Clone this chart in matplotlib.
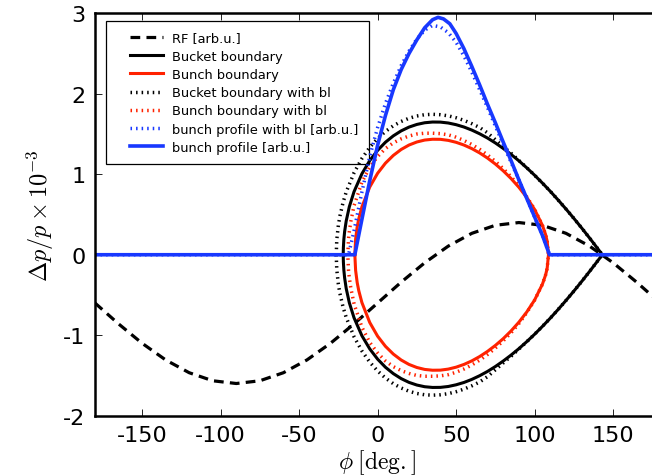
import numpy as np
import matplotlib
matplotlib.use("Agg")
import matplotlib.pyplot as plt
from matplotlib.legend_handler import HandlerLine2D

# ---------------- data ----------------
# RF voltage [arb.u.]
rf_phi = [-180, -165, -150, -135, -120, -105, -90, -75, -60, -45, -30, -15, 0,
          15, 30, 45, 60, 75, 90, 105, 120, 135, 150, 165, 180]
rf_val = [-0.600, -0.859, -1.100, -1.307, -1.466, -1.566, -1.600, -1.566, -1.466,
          -1.307, -1.100, -0.859, -0.600, -0.341, -0.100, 0.107, 0.266, 0.366,
          0.400, 0.366, 0.266, 0.107, -0.100, -0.341, -0.600]

# Bucket boundary (upper half, lower half is mirrored)
bucket_phi = [-21.9, -21.8, -21.5, -21, -20, -18, -15, -10, -5, 0, 5, 10, 15, 20, 25,
              30, 35, 40, 45, 50, 55, 60, 65, 70, 75, 80, 85, 90, 95, 100, 105,
              110, 115, 120, 125, 130, 135, 140, 143.13]
bucket_dp = [0.0, 0.087, 0.190, 0.288, 0.419, 0.597, 0.784, 1.006, 1.170, 1.297,
             1.398, 1.477, 1.539, 1.586, 1.619, 1.640, 1.649, 1.648, 1.637, 1.616,
             1.587, 1.549, 1.503, 1.450, 1.389, 1.321, 1.247, 1.167, 1.080, 0.988,
             0.890, 0.788, 0.680, 0.568, 0.452, 0.332, 0.208, 0.081, 0.0]

# Bunch boundary
bunch_phi = [-14.5, -14, -13, -12, -10, -5, 0, 5, 10, 15, 20, 25, 30, 35, 40, 45,
             50, 55, 60, 65, 70, 75, 80, 85, 90, 95, 100, 105, 107, 108, 108.84]
bunch_dp = [0.0, 0.195, 0.346, 0.446, 0.594, 0.842, 1.012, 1.138, 1.234, 1.308,
            1.363, 1.401, 1.425, 1.435, 1.434, 1.421, 1.397, 1.363, 1.319, 1.265,
            1.201, 1.127, 1.043, 0.947, 0.838, 0.712, 0.563, 0.365, 0.251, 0.169, 0.0]

# Bucket boundary with bl
bucket_bl_phi = [-26.34, -26, -25, -24, -22, -20, -15, -10, -5, 0, 5, 10, 15, 20,
                 25, 30, 35, 40, 45, 50, 55, 60, 65, 70, 75, 80, 85, 90, 95, 100,
                 105, 110, 115, 120, 125, 130, 135, 140, 143.13]
bucket_bl_dp = [0.0, 0.186, 0.366, 0.481, 0.650, 0.779, 1.019, 1.196, 1.334, 1.444,
                1.532, 1.602, 1.656, 1.696, 1.724, 1.740, 1.745, 1.740, 1.726, 1.702,
                1.670, 1.629, 1.581, 1.515, 1.430, 1.345, 1.262, 1.172, 1.082, 0.988,
                0.890, 0.788, 0.680, 0.568, 0.452, 0.332, 0.208, 0.081, 0.0]

# Bunch boundary with bl
bunch_bl_phi = [-19, -18.5, -18, -17, -15, -10, -5, 0, 5, 10, 15, 20, 25, 30, 35,
                40, 45, 50, 55, 60, 65, 70, 75, 80, 85, 90, 95, 100, 105, 107, 108,
                108.84]
bunch_bl_dp = [0.0, 0.20, 0.29, 0.42, 0.61, 0.90, 1.09, 1.22, 1.32, 1.39, 1.44,
               1.475, 1.50, 1.51, 1.51, 1.505, 1.49, 1.46, 1.42, 1.37, 1.31, 1.24,
               1.16, 1.07, 0.97, 0.855, 0.72, 0.565, 0.365, 0.251, 0.169, 0.0]

# Bunch profile with bl [arb.u.]
prof_bl_phi = [-180, -18.5, -15, -10, -5, 0, 5, 10, 15, 20, 25, 30, 35, 40, 45, 50,
               55, 60, 65, 70, 75, 80, 85, 90, 95, 100, 105, 109.5, 180]
prof_bl_val = [0.0, 0.0, 0.30, 0.78, 1.22, 1.58, 1.88, 2.13, 2.35, 2.53, 2.68, 2.79,
               2.85, 2.83, 2.76, 2.64, 2.47, 2.27, 2.05, 1.83, 1.60, 1.37, 1.15,
               0.93, 0.70, 0.47, 0.24, 0.0, 0.0]

# Bunch profile [arb.u.]
prof_phi = [-180, -14.5, -10, -5, 0, 5, 10, 15, 20, 25, 30, 35, 38.5, 42, 46, 50,
            55, 60, 65, 70, 75, 80, 85, 90, 95, 100, 105, 109.5, 180]
prof_val = [0.0, 0.0, 0.44, 0.92, 1.36, 1.73, 2.05, 2.30, 2.50, 2.67, 2.82, 2.92,
            2.95, 2.93, 2.87, 2.75, 2.56, 2.34, 2.11, 1.87, 1.64, 1.40, 1.17, 0.93,
            0.70, 0.47, 0.24, 0.0, 0.0]

x_ticks = [-150, -100, -50, 0, 50, 100, 150]
y_ticks = [-2, -1, 0, 1, 2, 3]

labels = ["RF [arb.u.]", "Bucket boundary", "Bunch boundary",
          "Bucket boundary with bl", "Bunch boundary with bl",
          "bunch profile with bl [arb.u.]", "bunch profile [arb.u.]"]

# ---------------- style ----------------
plt.rcParams['axes.unicode_minus'] = False
plt.rcParams['mathtext.fontset'] = 'cm'
plt.rcParams['lines.scale_dashes'] = False
plt.rcParams['font.family'] = ['DejaVu Sans']

RED = '#ff2200'
BLUE = '#1838ff'


def closed(phi, dp):
    p = np.asarray(phi, float)
    d = np.asarray(dp, float)
    return np.concatenate([p, p[::-1]]), np.concatenate([d, -d[::-1]])


fig = plt.figure(figsize=(6.52, 4.77), dpi=100)
ax = fig.add_axes([95 / 652, (477 - 416.7) / 477, 565.2 / 652, (416.7 - 14.3) / 477])

DOT = dict(dashes=(1.1, 2.9), dash_capstyle='butt')

h = []
l, = ax.plot(rf_phi, rf_val, color='black', lw=2.3, dashes=(7, 4.5))
h.append(l)
x, y = closed(bucket_phi, bucket_dp)
l, = ax.plot(x, y, color='black', lw=2.2)
h.append(l)
x, y = closed(bunch_phi, bunch_dp)
l, = ax.plot(x, y, color=RED, lw=2.2)
h.append(l)
x, y = closed(bucket_bl_phi, bucket_bl_dp)
l, = ax.plot(x, y, color='black', lw=2.5, **DOT)
h.append(l)
x, y = closed(bunch_bl_phi, bunch_bl_dp)
l, = ax.plot(x, y, color=RED, lw=2.5, **DOT)
h.append(l)
l, = ax.plot(prof_bl_phi, prof_bl_val, color=BLUE, lw=2.5, **DOT)
h.append(l)
l, = ax.plot(prof_phi, prof_val, color=BLUE, lw=2.6)
h.append(l)

ax.set_xlim(-180, 180)
ax.set_ylim(-2, 3)
ax.set_xticks(x_ticks)
ax.set_yticks(y_ticks)
ax.tick_params(direction='in', top=True, right=True, length=5, width=0.6,
               labelsize=16, pad=7)
for s in ax.spines.values():
    s.set_linewidth(1.8)


class ShortLine(HandlerLine2D):
    def __init__(self, frac=0.7, **kw):
        super().__init__(**kw)
        self.frac = frac

    def get_xdata(self, legend, xdescent, ydescent, width, height, fontsize):
        x0 = -xdescent + (1 - self.frac) * width
        x1 = -xdescent + width
        return np.array([x0, x1]), np.array([(x0 + x1) / 2])


leg = ax.legend(h, labels, loc='upper left',
                bbox_to_anchor=(106 / 652, 1 - 22 / 477),
                bbox_transform=fig.transFigure, borderaxespad=0,
                fontsize=9.4, labelspacing=0.4, handlelength=3.54,
                handletextpad=0.75, borderpad=0.8, fancybox=False,
                framealpha=1, edgecolor='black',
                handler_map={type(h[0]): ShortLine(frac=0.696)})
leg.get_frame().set_linewidth(0.9)
leg.set_zorder(1)

fig.text(40 / 652, 1 - 216 / 477, r'$\Delta p/p\times10^{-3}$', rotation=90,
         ha='center', va='center', fontsize=17.5)
fig.text(377 / 652, 1 - 463 / 477, r'$\phi\;[\mathrm{deg.}]$',
         ha='center', va='center', fontsize=17)

fig.savefig('out.png', dpi=100)
